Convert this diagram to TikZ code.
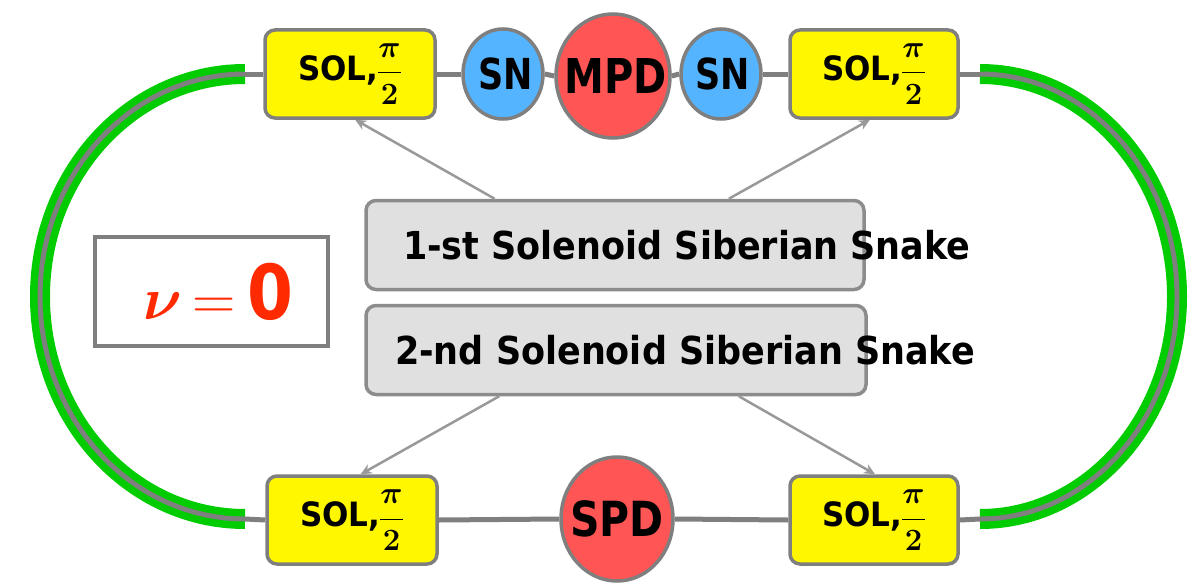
\RequirePackage{fix-cm}
\documentclass[tikz,border=0pt]{standalone}
\usepackage{amsmath}
\usepackage{fontspec}
\setmainfont{DejaVu Sans}
\usepackage{graphicx}
\usetikzlibrary{shapes.geometric,arrows.meta,calc}
\definecolor{solyellow}{HTML}{FFF700}
\definecolor{snblue}{HTML}{55B4FF}
\definecolor{pdred}{HTML}{FF5555}
\definecolor{bordergray}{HTML}{7F7F7F}
\definecolor{boxgray}{HTML}{E0E0E0}
\definecolor{boxborder}{HTML}{8C8C8C}
\definecolor{ringgreen}{HTML}{00CC00}
\definecolor{nured}{HTML}{FF2A00}
\definecolor{arrowgray}{HTML}{999999}
\newcommand{\soltext}{\scalebox{1}[1.08]{SOL,}\kern-1pt$\boldsymbol{\dfrac{\pi}{2}}$}
\begin{document}
\begin{tikzpicture}[x=1pt,y=-1pt,
  solbox/.style={draw=bordergray, line width=3.5pt, fill=solyellow, rounded corners=10pt,
    minimum width=170pt, minimum height=88pt, inner sep=0pt,
    font=\fontsize{31}{36}\selectfont\bfseries},
  snnode/.style={ellipse, draw=bordergray, line width=3.5pt, fill=snblue,
    minimum width=80pt, minimum height=90pt, inner sep=0pt,
    font=\fontsize{35}{40}\selectfont\bfseries},
  pdnode/.style={ellipse, draw=bordergray, line width=3.5pt, fill=pdred,
    minimum width=114pt, minimum height=124pt, inner sep=0pt},
  snakebox/.style={draw=boxborder, line width=3.5pt, fill=boxgray, rounded corners=10pt,
    minimum height=89pt, inner ysep=0pt, anchor=center,
    font=\fontsize{35}{40}\selectfont\bfseries},
  chainline/.style={draw=bordergray, line width=5pt},
  ringgreenline/.style={draw=ringgreen, line width=20pt},
  ringgrayline/.style={draw=bordergray, line width=5pt},
  arr/.style={draw=arrowgray, line width=2.5pt, -{Stealth[length=11pt,width=10pt]}}
]
\useasboundingbox (0,0) rectangle (1198,586);
\fill[white] (0,0) rectangle (1198,586);

% ring end points
\coordinate (aTL) at (245,74);
\coordinate (aBL) at (245,519);
\coordinate (aTR) at (980,74);
\coordinate (aBR) at (980,519);

% green ring arcs
\draw[ringgreenline] (aTL) arc[start angle=270, end angle=90, x radius=205, y radius=222.5];
\draw[ringgrayline] (aTL) arc[start angle=270, end angle=90, x radius=205, y radius=222.5];
\draw[ringgreenline] (aTR) arc[start angle=270, end angle=450, x radius=197, y radius=222.5];
\draw[ringgrayline] (aTR) arc[start angle=270, end angle=450, x radius=197, y radius=222.5];

% top line nodes
\node[solbox] (solTL) at (350,74) {\soltext};
\node[snnode] (sn1) at (503,74) {\makebox[0pt]{\hspace{6pt}\scalebox{1}[1.22]{SN}}};
\node[pdnode] (mpd) at (613,76) {\makebox[0pt]{\fontsize{40}{44}\selectfont\bfseries\hspace{6pt}\scalebox{1}[1.2]{MPD}}};
\node[snnode] (sn2) at (721,74) {\makebox[0pt]{\hspace{4pt}\scalebox{1}[1.22]{SN}}};
\node[solbox, minimum width=168pt] (solTR) at (874,74) {\soltext};

% bottom line nodes
\node[solbox] (solBL) at (352,520) {\soltext};
\node[pdnode, minimum width=112pt] (spd) at (617,519) {\makebox[0pt]{\fontsize{41}{45}\selectfont\bfseries\scalebox{1}[1.18]{SPD}}};
\node[solbox, minimum width=168pt] (solBR) at (874,520) {\soltext};

% chain connectors
\draw[chainline] (aTL) -- (solTL.west);
\draw[chainline] (solTL.east) -- (sn1.west);
\draw[chainline] (sn1.east) -- (mpd.west);
\draw[chainline] (mpd.east) -- (sn2.west);
\draw[chainline] (sn2.east) -- (solTR.west);
\draw[chainline] (solTR.east) -- (aTR);
\draw[chainline] (aBL) -- (solBL.west);
\draw[chainline] (solBL.east) -- (spd.west);
\draw[chainline] (spd.east) -- (solBR.west);
\draw[chainline] (solBR.east) -- (aBR);

% snake boxes
\node[snakebox, inner xsep=37pt] (box1) at (615,245)
  {\makebox[424pt][l]{\scalebox{1}[1.1]{1-st Solenoid Siberian Snake}}};
\node[snakebox, inner xsep=29pt] (box2) at (616,350)
  {\makebox[442pt][l]{\scalebox{1}[1.1]{2-nd Solenoid Siberian Snake}}};

% nu box
\node[draw=bordergray, line width=4pt, fill=white, minimum width=233pt, minimum height=109pt, inner sep=0pt,
  text=nured] (nubox) at (211.5,291.5)
  {\hspace{14pt}{\fontsize{60}{66}\selectfont$\boldsymbol{\nu}\mkern3mu{=}\mkern3mu$}\hspace{2pt}{\fontsize{66}{72}\selectfont\bfseries\scalebox{1}[1.15]{0}}};

% arrows
\draw[arr] ($(box1.north west)!0.26!(box1.north east)$) -- ($(solTL.south west)!0.53!(solTL.south east)$);
\draw[arr] ($(box1.north west)!0.727!(box1.north east)$) -- ($(solTR.south west)!0.476!(solTR.south east)$);
\draw[arr] ($(box2.south west)!0.268!(box2.south east)$) -- ($(solBL.north west)!0.55!(solBL.north east)$);
\draw[arr] ($(box2.south west)!0.744!(box2.south east)$) -- ($(solBR.north west)!0.506!(solBR.north east)$);
\end{tikzpicture}
\end{document}
